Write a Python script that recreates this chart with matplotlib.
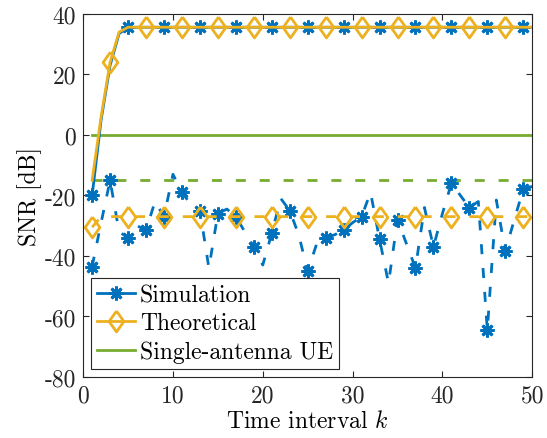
import numpy as np
import matplotlib
matplotlib.use('Agg')
import matplotlib.pyplot as plt

# Data
k = np.arange(1, 51)

sim_high = [-20, 5, 23, 33.5] + [35.6] * 46
theo_high = [-15, 6, 24, 34] + [35.6] * 46

sim_low = [-43.5, -29, -15, -32, -34, -30, -31.5, -22, -27, -13,
           -19, -23, -25, -44, -26, -24.5, -27, -32, -37, -43,
           -32.5, -21, -25, -33, -45, -36, -34, -33, -31.5, -29,
           -27, -19, -34.5, -49, -28, -36, -44, -24, -37, -26,
           -16, -20, -24, -22, -64.5, -21.5, -38.5, -28, -18, -17]
theo_low = [-30.5] + [-27] * 49

single_high = [0] * 50
single_low = [-15] * 50

xticks = [0, 10, 20, 30, 40, 50]
yticks = [-80, -60, -40, -20, 0, 20, 40]

blue = '#0072BD'
orange = '#EDB120'
green = '#77AC30'

plt.rcParams['font.family'] = 'cmr10'
plt.rcParams['mathtext.fontset'] = 'cm'
plt.rcParams['axes.unicode_minus'] = False
plt.rcParams['axes.formatter.use_mathtext'] = False

fig = plt.figure(figsize=(5.47, 4.39), dpi=100)
ax = fig.add_axes([0.152, 0.139, 0.821, 0.827])

star = (8, 2, 0)
diamond = [(0, 1), (0.71, 0), (0, -1), (-0.71, 0), (0, 1)]
dash = (3.6, 5)

# single-antenna reference lines
g1, = ax.plot(k, single_high, color=green, lw=2, label='Single-antenna UE')
ax.plot(k, single_low, color=green, lw=2, dashes=dash)

# simulation
s1, = ax.plot(k, sim_high, color=blue, lw=2, marker=star, ms=10, mew=2,
              markevery=slice(0, None, 4), label='Simulation')
ax.plot(k, sim_low, color=blue, lw=2, dashes=dash, marker=star, ms=10, mew=2,
        markevery=slice(0, None, 2))

# theoretical
t1, = ax.plot(k, theo_high, color=orange, lw=2, marker=diamond, ms=15, mew=2,
              mfc='none', markevery=slice(2, None, 4), label='Theoretical')
ax.plot(k, theo_low, color=orange, lw=2, dashes=dash, marker=diamond, ms=15,
        mew=2, mfc='none', markevery=slice(0, None, 4))

ax.set_xlim(0, 50)
ax.set_ylim(-80, 40)
ax.set_xticks(xticks)
ax.set_yticks(yticks)
ax.tick_params(direction='in', top=True, right=True, length=4, width=0.8,
               labelsize=17, colors='#262626', pad=5)
for sp in ax.spines.values():
    sp.set_color('#262626')
    sp.set_linewidth(0.8)

ax.set_xlabel('Time interval $k$', fontsize=17, labelpad=3)
ax.set_ylabel('SNR [dB]', fontsize=17, labelpad=2)

leg = ax.legend(handles=[s1, t1, g1], loc='lower left', fontsize=17,
                fancybox=False, framealpha=1, edgecolor='#262626',
                handlelength=1.6, handletextpad=0.2, borderpad=0.25,
                labelspacing=0.25, borderaxespad=0.35)
leg.get_frame().set_linewidth(0.8)

plt.savefig('out.png', dpi=100)
